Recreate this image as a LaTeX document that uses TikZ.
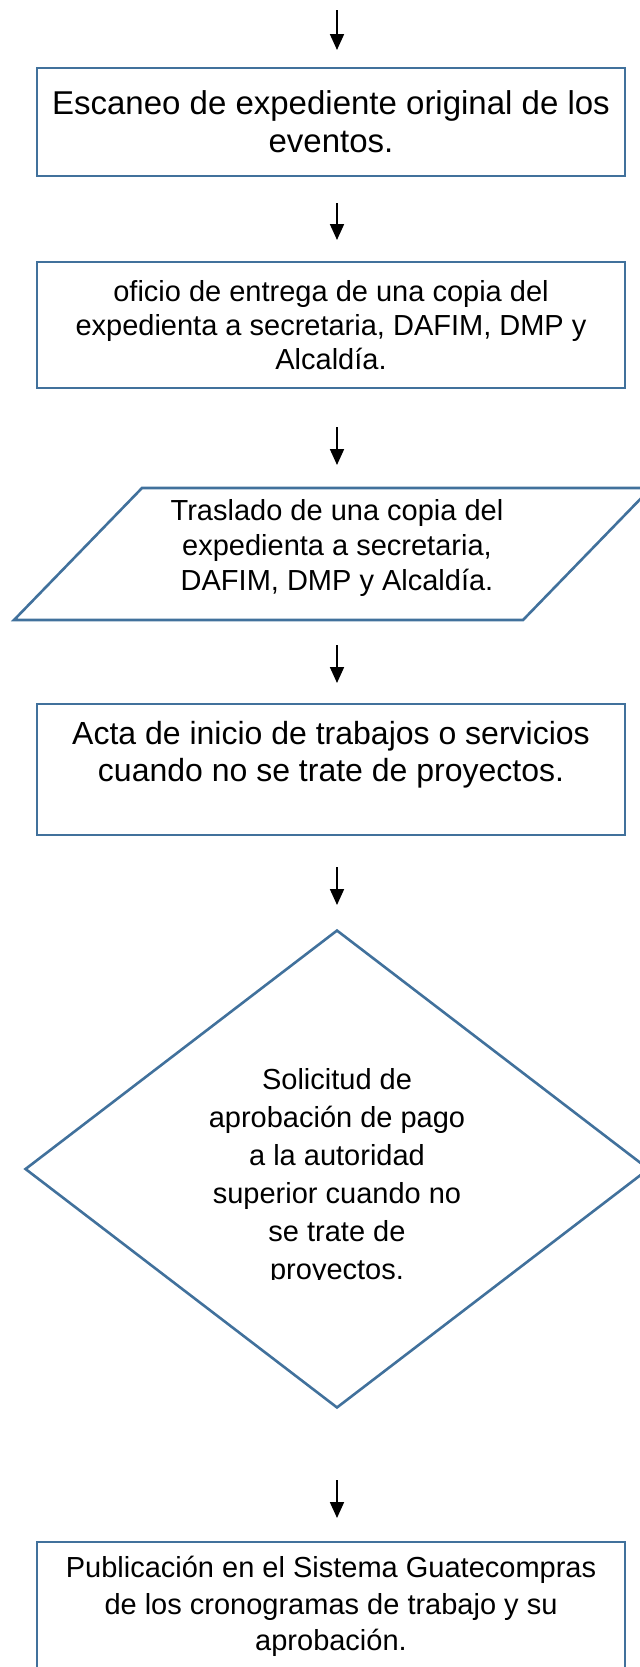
\documentclass[tikz,border=0pt]{standalone}
\usepackage{fontspec}
\setmainfont{Liberation Sans}
\usetikzlibrary{arrows.meta,shapes.geometric}
\definecolor{BordeAzul}{HTML}{41719C}

\begin{document}
\begin{tikzpicture}[x=0.5pt,y=-0.5pt,
    caja/.style={draw=BordeAzul, line width=1.3pt, minimum width=294pt,
      align=center, inner sep=0pt},
    texto/.style={align=center, inner sep=0pt},
    flecha/.style={-{Triangle[length=8pt,width=7pt]}, line width=0.9pt, black}]
    \useasboundingbox (0,0) rectangle (639,1667);

    \node[caja, minimum height=54pt, font=\fontsize{16.5}{19}\selectfont]
      (escaneo) at (331,122) {Escaneo de expediente original de los\\eventos.};
    \node[caja, minimum height=63pt, font=\fontsize{14.5}{17}\selectfont]
      (oficio) at (331,325) {oficio de entrega de una copia del\\
      expedienta a secretaria, DAFIM, DMP y\\Alcaldía.};

    % paralelogramo
    \draw[BordeAzul, line width=1.3pt] (142,488) -- (651,488) -- (523,620)
      -- (14,620) -- cycle;
    \node[texto, font=\fontsize{14.5}{17.5}\selectfont] (traslado) at (337,548)
      {Traslado de una copia del\\expedienta a secretaria,\\DAFIM, DMP y Alcaldía.};

    \node[caja, minimum height=65.5pt, font=\fontsize{16}{18.5}\selectfont]
      (acta) at (331,769.5) {Acta de inicio de trabajos o servicios\\
      cuando no se trate de proyectos.\\\mbox{}};

    \node[diamond, draw=BordeAzul, line width=1.3pt, minimum width=312pt,
      minimum height=239pt, inner sep=0pt] (solicitud) at (337,1169) {};
    \begin{scope}
      \clip (0,1000) rectangle (639,1279);
      \node[texto, font=\fontsize{14.5}{19}\selectfont] (textosolicitud) at (337,1177)
        {Solicitud de\\aprobación de pago\\a la autoridad\\superior cuando no\\
        se trate de\\proyectos.};
    \end{scope}

    \node[caja, minimum height=80pt, font=\fontsize{14.5}{18.25}\selectfont]
      (publicacion) at (331,1622) {Publicación en el Sistema Guatecompras\\
      de los cronogramas de trabajo y su\\aprobación.\\\mbox{}};

    \foreach \ya/\yb [count=\i] in {10/50, 203/240, 427/465, 645/683, 867/905, 1480/1518} {
      \coordinate (ini\i) at (337,\ya);
      \coordinate (fin\i) at (337,\yb);
      \draw[flecha] (ini\i) -- (fin\i);
    }
\end{tikzpicture}
\end{document}
